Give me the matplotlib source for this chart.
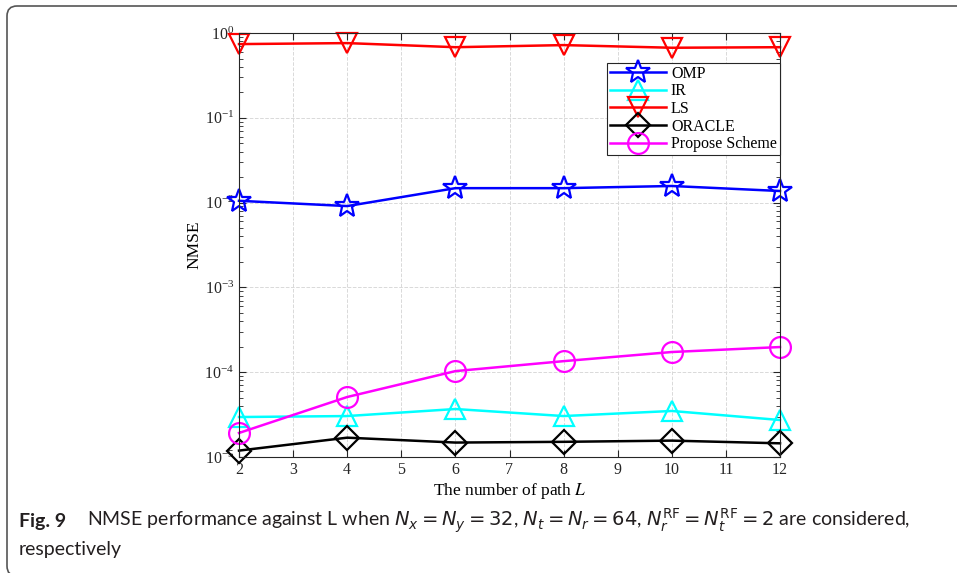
import matplotlib
matplotlib.use("Agg")
import matplotlib.pyplot as plt
from matplotlib.patches import FancyBboxPatch
import numpy as np

# number of paths L
paths = [2, 4, 6, 8, 10, 12]

# NMSE
omp = [1.05e-2, 9.1e-3, 1.48e-2, 1.48e-2, 1.57e-2, 1.37e-2]
ir = [2.96e-5, 3.04e-5, 3.68e-5, 3.04e-5, 3.49e-5, 2.73e-5]
ls = [0.74, 0.76, 0.68, 0.72, 0.67, 0.68]
oracle = [1.19e-5, 1.69e-5, 1.48e-5, 1.51e-5, 1.56e-5, 1.45e-5]
proposed = [1.92e-5, 5.1e-5, 1.03e-4, 1.35e-4, 1.73e-4, 1.98e-4]

xtick_vals = list(range(2, 13))

plt.rcParams['font.family'] = ['Liberation Serif', 'DejaVu Serif']
plt.rcParams['mathtext.fontset'] = 'stix'

fig = plt.figure(figsize=(9.57, 5.73), dpi=100)
ax = fig.add_axes([239/957, 1-457/573, (780-239)/957, (457-33)/573])

lw = 1.8
ms = 15
mew = 1.6
kw = dict(lw=lw, ms=ms, mfc='none', mew=mew, clip_on=False)
ax.plot(paths, omp, color='blue', marker='*', label='OMP', **{**kw, 'ms': ms+3})
ax.plot(paths, ir, color='cyan', marker='^', label='IR', **kw)
ax.plot(paths, ls, color='red', marker='v', label='LS', **kw)
ax.plot(paths, oracle, color='black', marker='D', label='ORACLE', **{**kw, 'ms': ms-2.5})
ax.plot(paths, proposed, color='magenta', marker='o', label='Propose Scheme', **kw)

ax.set_yscale('log')
ax.set_ylim(1e-5, 1)
ax.set_xlim(2, 12)
ax.set_xticks(xtick_vals)
ax.set_yticks([1e-5, 1e-4, 1e-3, 1e-2, 1e-1, 1])
ax.tick_params(which='both', direction='in', top=True, right=True, labelsize=11.5, colors='#262626')
ax.tick_params(which='major', length=5)
ax.tick_params(which='minor', length=3)
ax.grid(True, which='major', linestyle='--', color='#d9d9d9', lw=0.7)
for s in ax.spines.values():
    s.set_color('#262626')
    s.set_linewidth(0.8)

ax.set_xlabel('The number of path $L$', fontsize=12.5, labelpad=2)
ax.set_ylabel('NMSE', fontsize=12.5, labelpad=1)

leg = ax.legend(loc='upper right', bbox_to_anchor=(1.0, 0.93), borderaxespad=0,
                fontsize=11.5, fancybox=False, edgecolor='#262626', framealpha=1,
                handlelength=3.5, labelspacing=0.1, handletextpad=0.3, borderpad=0.2)
leg.get_frame().set_linewidth(0.8)
leg.set_zorder(5)

# caption below the chart
cap_kw = dict(fontsize=14, family=['Lato', 'DejaVu Sans'], math_fontfamily='dejavusans', color='#231f20')
fig.text(19/957, 1-521/573, 'Fig. 9', fontweight='bold', va='center', **cap_kw)
fig.text(87/957, 1-521/573,
         r'NMSE performance against L when $N_x = N_y = 32$, $N_t = N_r = 64$, '
         r'$N_r^{\mathrm{RF}} = N_t^{\mathrm{RF}} = 2$ are considered,', va='center', **cap_kw)
fig.text(19/957, 1-549/573, 'respectively', va='center', **cap_kw)

# rounded frame round the figure box
frame = FancyBboxPatch((0.07, -0.03), 10.0, 5.67 + 0.03, boxstyle='round,pad=0,rounding_size=0.1',
                       transform=fig.dpi_scale_trans, fill=False, edgecolor='#555555', lw=1.2)
fig.patches.append(frame)

fig.savefig('out.png', dpi=100)
